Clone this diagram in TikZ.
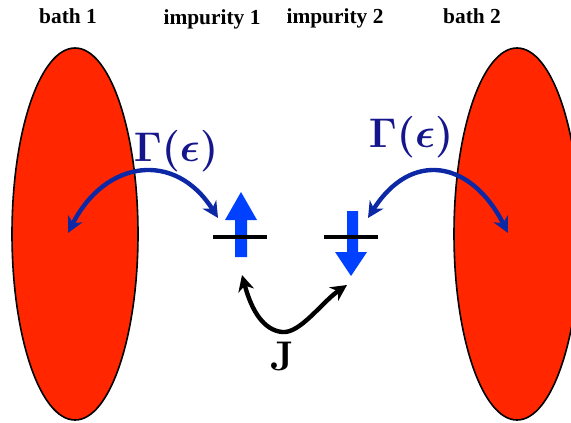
\documentclass[tikz,border=0pt]{standalone}
\usepackage{amsmath,bm}
\usepackage[no-math]{fontspec}
\setmainfont{Liberation Serif}
\usetikzlibrary{shapes.geometric,arrows.meta}
\definecolor{bathred}{RGB}{255,38,0}
\definecolor{curveblue}{RGB}{12,40,165}
\definecolor{gammanavy}{RGB}{22,22,140}
\definecolor{spinblue}{RGB}{0,64,255}
\tikzset{
  bath/.style={ellipse, draw=black, line width=0.8pt, fill=bathred, minimum width=63pt, minimum height=186pt, inner sep=0pt},
  toplabel/.style={anchor=base, font=\fontsize{10.7}{12}\selectfont\bfseries, inner sep=0pt},
  biglabel/.style={anchor=base, font=\fontsize{20}{24}\selectfont, inner sep=0pt},
  hop/.style={draw=curveblue, line width=2.2pt, {Stealth[length=8pt,width=8pt,inset=2.5pt]}-{Stealth[length=8pt,width=8pt,inset=2.5pt]}},
  exch/.style={draw=black, line width=2.2pt, {Stealth[length=8pt,width=8pt,inset=2.5pt]}-{Stealth[length=8pt,width=8pt,inset=2.5pt]}},
  level/.style={draw=black, line width=2pt},
}
\begin{document}
\begin{tikzpicture}[x=0.5pt,y=-0.5pt]
\useasboundingbox (0,0) rectangle (571,422);
\begin{scope}
\clip (0,0) rectangle (571,422);
\node[bath] (bath1) at (75,234) {};
\node[bath] (bath2) at (517,234) {};
\end{scope}
% labels
\node[toplabel] (lb1) at (68,24) {bath 1};
\node[toplabel] (li1) at (212,25) {impurity 1};
\node[toplabel] (li2) at (335,24) {impurity 2};
\node[toplabel] (lb2) at (472,24) {bath 2};
\node[biglabel, text=gammanavy] (g1) at (176,162) {$\bm{\Gamma(\epsilon)}$};
\node[biglabel, text=gammanavy] (g2) at (411,148) {$\bm{\Gamma(\epsilon)}$};
\node[biglabel] (J) at (282,370) {$\mathbf{J}$};
% spins
\fill[spinblue] (235,257) -- (235,220) -- (225,220) -- (241,192) -- (257,220) -- (247,220) -- (247,257) -- cycle;
\fill[spinblue] (347,211) -- (347,252) -- (335,252) -- (351,276) -- (367,252) -- (358,252) -- (358,211) -- cycle;
% levels
\coordinate (l1a) at (213,237); \coordinate (l1b) at (267,237);
\coordinate (l2a) at (324,237); \coordinate (l2b) at (378,237);
\draw[level] (l1a) -- (l1b);
\draw[level] (l2a) -- (l2b);
% connector ends
\coordinate (t1) at (68,233);
\coordinate (t2) at (218,218);
\coordinate (t3) at (368,218);
\coordinate (t4) at (508,233);
\coordinate (j1) at (242,275);
\coordinate (jm) at (282,332);
\coordinate (j2) at (347,285);
\draw[hop] (t1) .. controls (105,160) and (175,150) .. (t2);
\draw[hop] (t3) .. controls (411,150) and (471,160) .. (t4);
\draw[exch] (j1) .. controls (252,312) and (264,330) .. (jm) .. controls (300,334) and (322,302) .. (j2);
\end{tikzpicture}
\end{document}
